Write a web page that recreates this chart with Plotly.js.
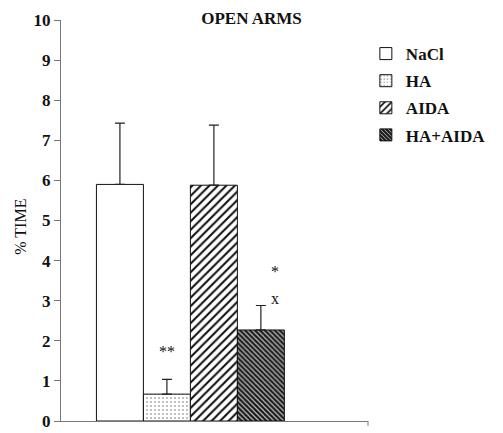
<!DOCTYPE html>
<html>
<head>
<meta charset="utf-8">
<script src="https://cdn.plot.ly/plotly-3.0.1.min.js"></script>
<style>html,body{margin:0;padding:0;background:#fff;}#chart{width:503px;height:433px;}</style>
</head>
<body>
<div id="chart"></div>
<script>
const groups = ["NaCl", "HA", "AIDA", "HA+AIDA"];
const meanTime = [5.9, 0.67, 5.88, 2.27];
const semTime = [1.53, 0.37, 1.5, 0.61];
const yTicks = [0, 1, 2, 3, 4, 5, 6, 7, 8, 9, 10];

const patterns = [
  {shape: "", bgcolor: "white"},
  {shape: ".", bgcolor: "white", fgcolor: "#666", size: 4, solidity: 0.12},
  {shape: "/", bgcolor: "white", fgcolor: "#111", size: 6, solidity: 0.35},
  {shape: "\\", bgcolor: "#1a1a1a", fgcolor: "#bbb", size: 3.5, solidity: 0.35}
];

const traces = groups.map((g, i) => ({
  type: "bar",
  name: "<b>" + g + "</b>",
  x: [i],
  y: [meanTime[i]],
  width: 1,
  legendgroup: g,
  marker: {color: "white", line: {color: "#111", width: 1}, pattern: patterns[i]},
  error_y: {type: "data", symmetric: false, array: [semTime[i]], arrayminus: [0], color: "#222", thickness: 1.2, width: 5}
}));

const font = {family: "Liberation Serif, Times New Roman, serif", color: "#111"};
const f = (s) => Object.assign({}, font, {size: s});

const annotations = [
  {x: 1, y: 1.73, text: "**", showarrow: false, font: f(16)},
  {x: 3.3, y: 3.72, text: "*", showarrow: false, font: f(16)},
  {x: 3.3, y: 3.05, text: "x", showarrow: false, font: f(16)},
  {xref: "paper", yref: "paper", x: -0.131, y: 0.484, xanchor: "center", yanchor: "middle", textangle: -90, text: "% TIME", showarrow: false, font: f(16)}
];

const layout = {
  width: 503, height: 433,
  margin: {l: 61, r: 130, t: 20, b: 12},
  paper_bgcolor: "white", plot_bgcolor: "white",
  barmode: "overlay",
  showlegend: true,
  title: {text: "<b>OPEN ARMS</b>", x: 0.5, xanchor: "center", y: 0.958, yanchor: "middle", font: f(17)},
  xaxis: {range: [-1.254, 5.28], showticklabels: false, ticks: "", showgrid: false, zeroline: false, showline: true, linecolor: "#777", linewidth: 1, fixedrange: true},
  yaxis: {range: [0, 10], tickvals: yTicks, ticktext: yTicks.map(v => "<b>" + v + "</b>"), ticklabeloverflow: "allow",
    ticks: "outside", ticklen: 6, tickcolor: "#777", showgrid: false, zeroline: false, showline: true, linecolor: "#777", linewidth: 1,
    tickfont: f(17)},
  legend: {x: 0.993, y: 0.96, xanchor: "left", yanchor: "top", font: f(17), tracegroupgap: 2, itemwidth: 30, bgcolor: "rgba(0,0,0,0)"},
  shapes: [{type: "line", xref: "paper", yref: "paper", x0: 1, x1: 1, y0: 0, y1: -0.012, line: {color: "#777", width: 1}}],
  annotations: annotations
};

Plotly.newPlot("chart", traces, layout, {displayModeBar: false, staticPlot: true});
</script>
</body>
</html>
